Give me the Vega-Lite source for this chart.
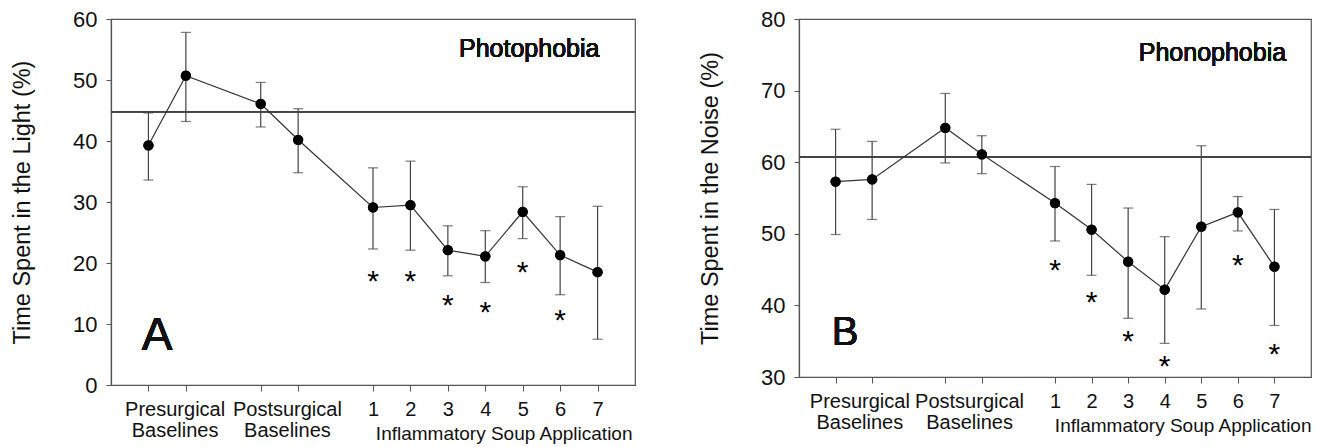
{
  "$schema": "https://vega.github.io/schema/vega-lite/v6.json",
  "background": "white",
  "padding": {"left": 9, "top": 7, "right": 5, "bottom": 0},
  "bounds": "flush",
  "spacing": 164,
  "config": {
    "font": "Liberation Sans",
    "view": {"stroke": "#555", "strokeWidth": 1.2},
    "axis": {
      "grid": false,
      "domainColor": "#555",
      "domainWidth": 1.2,
      "tickColor": "#555",
      "labelColor": "#111",
      "titleColor": "#111",
      "labelFont": "Liberation Sans",
      "titleFont": "Liberation Sans",
      "titleFontWeight": "normal"
    }
  },
  "datasets": {
    "A": [
      {"pos": 1, "mean": 39.3, "lo": 33.6, "hi": 44.6, "star": null},
      {"pos": 2, "mean": 50.7, "lo": 43.2, "hi": 57.8, "star": null},
      {"pos": 4, "mean": 46.1, "lo": 42.3, "hi": 49.6, "star": null},
      {"pos": 5, "mean": 40.2, "lo": 34.8, "hi": 45.3, "star": null},
      {"pos": 7, "mean": 29.1, "lo": 22.3, "hi": 35.6, "star": 17.6},
      {"pos": 8, "mean": 29.5, "lo": 22.1, "hi": 36.7, "star": 17.6},
      {"pos": 9, "mean": 22.1, "lo": 17.9, "hi": 26.1, "star": 13.6},
      {"pos": 10, "mean": 21.1, "lo": 16.8, "hi": 25.3, "star": 12.5},
      {"pos": 11, "mean": 28.4, "lo": 24.0, "hi": 32.5, "star": 19.0},
      {"pos": 12, "mean": 21.3, "lo": 14.8, "hi": 27.6, "star": 11.1},
      {"pos": 13, "mean": 18.5, "lo": 7.5, "hi": 29.3, "star": null}
    ],
    "B": [
      {"pos": 1, "mean": 57.3, "lo": 49.9, "hi": 64.6, "star": null},
      {"pos": 2, "mean": 57.6, "lo": 52.0, "hi": 62.9, "star": null},
      {"pos": 4, "mean": 64.8, "lo": 59.9, "hi": 69.6, "star": null},
      {"pos": 5, "mean": 61.1, "lo": 58.4, "hi": 63.7, "star": null},
      {"pos": 7, "mean": 54.3, "lo": 49.0, "hi": 59.4, "star": 45.4},
      {"pos": 8, "mean": 50.6, "lo": 44.2, "hi": 56.9, "star": 40.9},
      {"pos": 9, "mean": 46.1, "lo": 38.2, "hi": 53.6, "star": 35.4},
      {"pos": 10, "mean": 42.2, "lo": 34.7, "hi": 49.6, "star": 32.0},
      {"pos": 11, "mean": 51.0, "lo": 39.5, "hi": 62.3, "star": null},
      {"pos": 12, "mean": 53.0, "lo": 50.4, "hi": 55.2, "star": 46.0},
      {"pos": 13, "mean": 45.4, "lo": 37.2, "hi": 53.4, "star": 33.7}
    ]
  },
  "hconcat": [
    {
      "width": 524,
      "height": 366,
      "data": {"name": "A"},
      "layer": [
        {
          "mark": {"type": "point", "filled": true, "color": "#000", "opacity": 1, "size": 105},
          "encoding": {
            "x": {
              "field": "pos", "type": "quantitative",
              "scale": {"domain": [0, 14], "nice": false, "zero": false},
              "axis": {
                "values": [1, 1.7, 2, 4, 4.7, 5, 7, 8, 9, 10, 11, 12, 13],
                "tickSize": 6,
                "tickOpacity": {"condition": {"test": "datum.value == 1.7 || datum.value == 4.7", "value": 0}, "value": 1},
                "labelExpr": "datum.value == 1.7 ? ['Presurgical', 'Baselines'] : datum.value == 4.7 ? ['Postsurgical', 'Baselines'] : datum.value >= 7 ? '' + (datum.value - 6) : ''",
                "labelFontSize": 20,
                "labelLineHeight": 21,
                "labelPadding": 8,
                "labelFlush": false,
                "labelOverlap": false,
                "title": "Inflammatory Soup Application",
                "titleFontSize": 19,
                "titleAnchor": "end",
                "titleAlign": "right",
                "titleBaseline": "alphabetic",
                "titleX": 521,
                "titleY": 54
              }
            },
            "y": {
              "field": "mean", "type": "quantitative",
              "scale": {"domain": [0, 60], "nice": false},
              "axis": {
                "title": "Time Spent in the Light (%)",
                "values": [0, 10, 20, 30, 40, 50, 60],
                "tickSize": 5,
                "labelPadding": 9,
                "labelFontSize": 22,
                "titleFontSize": 23.5,
                "titlePadding": 38
              }
            }
          }
        },
        {
          "mark": {"type": "rule", "color": "#444", "strokeWidth": 1.2},
          "encoding": {"y": {"datum": 44.8, "type": "quantitative"}}
        },
        {
          "mark": {"type": "rule", "color": "#444", "strokeWidth": 1.2},
          "encoding": {
            "x": {"field": "pos", "type": "quantitative"},
            "y": {"field": "lo", "type": "quantitative"},
            "y2": {"field": "hi"}
          }
        },
        {
          "mark": {"type": "tick", "orient": "horizontal", "color": "#444", "size": 10, "thickness": 1.2},
          "encoding": {
            "x": {"field": "pos", "type": "quantitative"},
            "y": {"field": "lo", "type": "quantitative"}
          }
        },
        {
          "mark": {"type": "tick", "orient": "horizontal", "color": "#444", "size": 10, "thickness": 1.2},
          "encoding": {
            "x": {"field": "pos", "type": "quantitative"},
            "y": {"field": "hi", "type": "quantitative"}
          }
        },
        {
          "mark": {"type": "line", "color": "#333", "strokeWidth": 1.2},
          "encoding": {
            "x": {"field": "pos", "type": "quantitative"},
            "y": {"field": "mean", "type": "quantitative"}
          }
        },
        {
          "mark": {"type": "point", "filled": true, "color": "#000", "opacity": 1, "size": 105},
          "encoding": {
            "x": {"field": "pos", "type": "quantitative"},
            "y": {"field": "mean", "type": "quantitative"}
          }
        },
        {
          "mark": {"type": "text", "text": "*", "fontSize": 30, "baseline": "alphabetic", "dy": 13, "color": "#000"},
          "encoding": {
            "x": {"field": "pos", "type": "quantitative"},
            "y": {"field": "star", "type": "quantitative"}
          }
        },
        {
          "mark": {"type": "text", "fontSize": 25, "align": "right", "baseline": "alphabetic", "color": "#111"},
          "encoding": {
            "x": {"datum": 13.05, "type": "quantitative"},
            "y": {"datum": 53.7, "type": "quantitative"},
            "text": {"value": "Photophobia"}
          }
        },
        {
          "mark": {"type": "text", "fontSize": 46, "align": "center", "baseline": "alphabetic", "color": "#111"},
          "encoding": {
            "x": {"datum": 1.23, "type": "quantitative"},
            "y": {"datum": 5.7, "type": "quantitative"},
            "text": {"value": "A"}
          }
        }
      ]
    },
    {
      "width": 512,
      "height": 358,
      "data": {"name": "B"},
      "layer": [
        {
          "mark": {"type": "point", "filled": true, "color": "#000", "opacity": 1, "size": 105},
          "encoding": {
            "x": {
              "field": "pos", "type": "quantitative",
              "scale": {"domain": [0, 14], "nice": false, "zero": false},
              "axis": {
                "values": [1, 1.65, 2, 4, 4.65, 5, 7, 8, 9, 10, 11, 12, 13],
                "tickSize": 6,
                "tickOpacity": {"condition": {"test": "datum.value == 1.65 || datum.value == 4.65", "value": 0}, "value": 1},
                "labelExpr": "datum.value == 1.65 ? ['Presurgical', 'Baselines'] : datum.value == 4.65 ? ['Postsurgical', 'Baselines'] : datum.value >= 7 ? '' + (datum.value - 6) : ''",
                "labelFontSize": 20,
                "labelLineHeight": 21,
                "labelPadding": 8,
                "labelFlush": false,
                "labelOverlap": false,
                "title": "Inflammatory Soup Application",
                "titleFontSize": 19,
                "titleAnchor": "end",
                "titleAlign": "right",
                "titleBaseline": "alphabetic",
                "titleX": 512,
                "titleY": 54
              }
            },
            "y": {
              "field": "mean", "type": "quantitative",
              "scale": {"domain": [30, 80], "nice": false, "zero": false},
              "axis": {
                "title": "Time Spent in the Noise (%)",
                "values": [30, 40, 50, 60, 70, 80],
                "tickSize": 5,
                "labelPadding": 9,
                "labelFontSize": 22,
                "titleFontSize": 23.5,
                "titlePadding": 38
              }
            }
          }
        },
        {
          "mark": {"type": "rule", "color": "#444", "strokeWidth": 1.2},
          "encoding": {"y": {"datum": 60.7, "type": "quantitative"}}
        },
        {
          "mark": {"type": "rule", "color": "#444", "strokeWidth": 1.2},
          "encoding": {
            "x": {"field": "pos", "type": "quantitative"},
            "y": {"field": "lo", "type": "quantitative"},
            "y2": {"field": "hi"}
          }
        },
        {
          "mark": {"type": "tick", "orient": "horizontal", "color": "#444", "size": 10, "thickness": 1.2},
          "encoding": {
            "x": {"field": "pos", "type": "quantitative"},
            "y": {"field": "lo", "type": "quantitative"}
          }
        },
        {
          "mark": {"type": "tick", "orient": "horizontal", "color": "#444", "size": 10, "thickness": 1.2},
          "encoding": {
            "x": {"field": "pos", "type": "quantitative"},
            "y": {"field": "hi", "type": "quantitative"}
          }
        },
        {
          "mark": {"type": "line", "color": "#333", "strokeWidth": 1.2},
          "encoding": {
            "x": {"field": "pos", "type": "quantitative"},
            "y": {"field": "mean", "type": "quantitative"}
          }
        },
        {
          "mark": {"type": "point", "filled": true, "color": "#000", "opacity": 1, "size": 105},
          "encoding": {
            "x": {"field": "pos", "type": "quantitative"},
            "y": {"field": "mean", "type": "quantitative"}
          }
        },
        {
          "mark": {"type": "text", "text": "*", "fontSize": 30, "baseline": "alphabetic", "dy": 13, "color": "#000"},
          "encoding": {
            "x": {"field": "pos", "type": "quantitative"},
            "y": {"field": "star", "type": "quantitative"}
          }
        },
        {
          "mark": {"type": "text", "fontSize": 25, "align": "right", "baseline": "alphabetic", "color": "#111"},
          "encoding": {
            "x": {"datum": 13.32, "type": "quantitative"},
            "y": {"datum": 74.2, "type": "quantitative"},
            "text": {"value": "Phonophobia"}
          }
        },
        {
          "mark": {"type": "text", "fontSize": 40, "align": "center", "baseline": "alphabetic", "color": "#111"},
          "encoding": {
            "x": {"datum": 1.26, "type": "quantitative"},
            "y": {"datum": 34.5, "type": "quantitative"},
            "text": {"value": "B"}
          }
        }
      ]
    }
  ]
}
